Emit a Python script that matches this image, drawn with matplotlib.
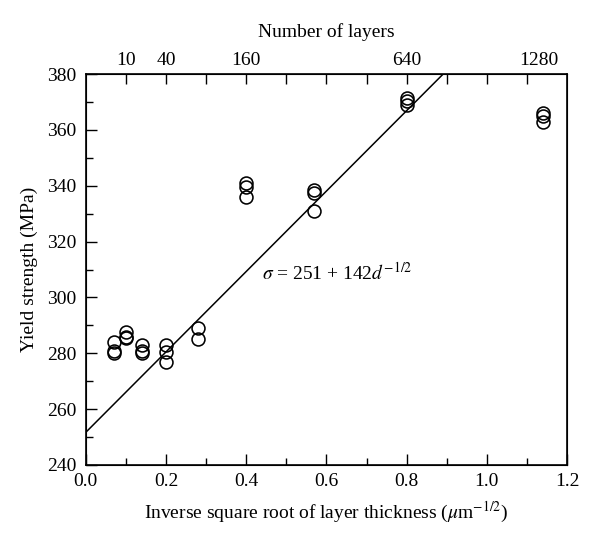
import matplotlib
matplotlib.use("Agg")
import matplotlib.pyplot as plt
import numpy as np

plt.rcParams['font.family'] = ['Liberation Serif', 'DejaVu Serif']
plt.rcParams['mathtext.fontset'] = 'stix'

# Data: inverse square root of layer thickness vs yield strength
x_groups = [0.07, 0.10, 0.14, 0.20, 0.28, 0.40, 0.57, 0.80, 1.14]
y_groups = [
    [284, 281, 280],
    [287.5, 286, 285.5],
    [283, 281, 280],
    [283, 280.5, 277],
    [289, 285],
    [341, 339.5, 336],
    [338.5, 337.5, 331],
    [371.5, 370.5, 369],
    [366, 365, 363],
]
fit_intercept = 251.7
fit_slope = 144.0
top_tick_pos = [0.1, 0.2, 0.4, 0.8, 1.13]
top_tick_labels = ['10', '40', '160', '640', '1280']

fig = plt.figure(figsize=(6.0, 5.41), dpi=100)
ax = fig.add_axes([0.143, 0.1405, 0.802, 0.7225])

xs = np.concatenate([[x] * len(ys) for x, ys in zip(x_groups, y_groups)])
ys = np.concatenate(y_groups)
ax.plot(xs, ys, linestyle='none', marker='o', markersize=9.3,
        markerfacecolor='none', markeredgecolor='black', markeredgewidth=1.15, zorder=3)

xl = np.array([0.0, 1.2])
ax.plot(xl, fit_intercept + fit_slope * xl, color='black', linewidth=1.1, zorder=2)

fs = 14
ax.set_xlim(0, 1.2)
ax.set_ylim(240, 380)
ax.set_xticks(np.arange(0, 1.21, 0.2))
ax.set_xticks(np.arange(0.1, 1.2, 0.2), minor=True)
ax.set_xticklabels(['0.0', '0.2', '0.4', '0.6', '0.8', '1.0', '1.2'])
ax.set_yticks(np.arange(240, 381, 20))
ax.set_yticks(np.arange(250, 380, 20), minor=True)
ax.tick_params(axis='both', which='major', direction='in', length=8, width=1.0,
               labelsize=fs, top=False, right=False)
ax.tick_params(axis='x', which='major', pad=6)
ax.tick_params(axis='y', which='major', pad=7)
ax.tick_params(axis='both', which='minor', direction='in', length=5, width=1.0,
               top=False, right=False)
for s in ax.spines.values():
    s.set_linewidth(1.2)

ax.set_xlabel(r'Inverse square root of layer thickness ($\mu$m$^{-1/2}$)', fontsize=fs, labelpad=7)
ax.set_ylabel('Yield strength (MPa)', fontsize=fs, labelpad=6)

# Top axis
ax2 = ax.twiny()
ax2.set_xlim(0, 1.2)
ax2.set_xticks(np.arange(0.1, 1.15, 0.1))
ax2.set_xticklabels([''] * 11)
ax2.tick_params(axis='x', which='major', direction='in', length=7, width=1.0,
                labelsize=fs, pad=3)
for p, lab in zip(top_tick_pos, top_tick_labels):
    ax2.text(p, 1.012, lab, transform=ax2.get_xaxis_transform(),
             ha='center', va='bottom', fontsize=fs)
ax2.set_xlabel('Number of layers', fontsize=fs, labelpad=24)

ax.text(0.44, 309, r'$\sigma$ = 251 + 142$d^{-1/2}$', fontsize=fs,
        ha='left', va='center')

fig.savefig('out.png', dpi=100, facecolor='white')
